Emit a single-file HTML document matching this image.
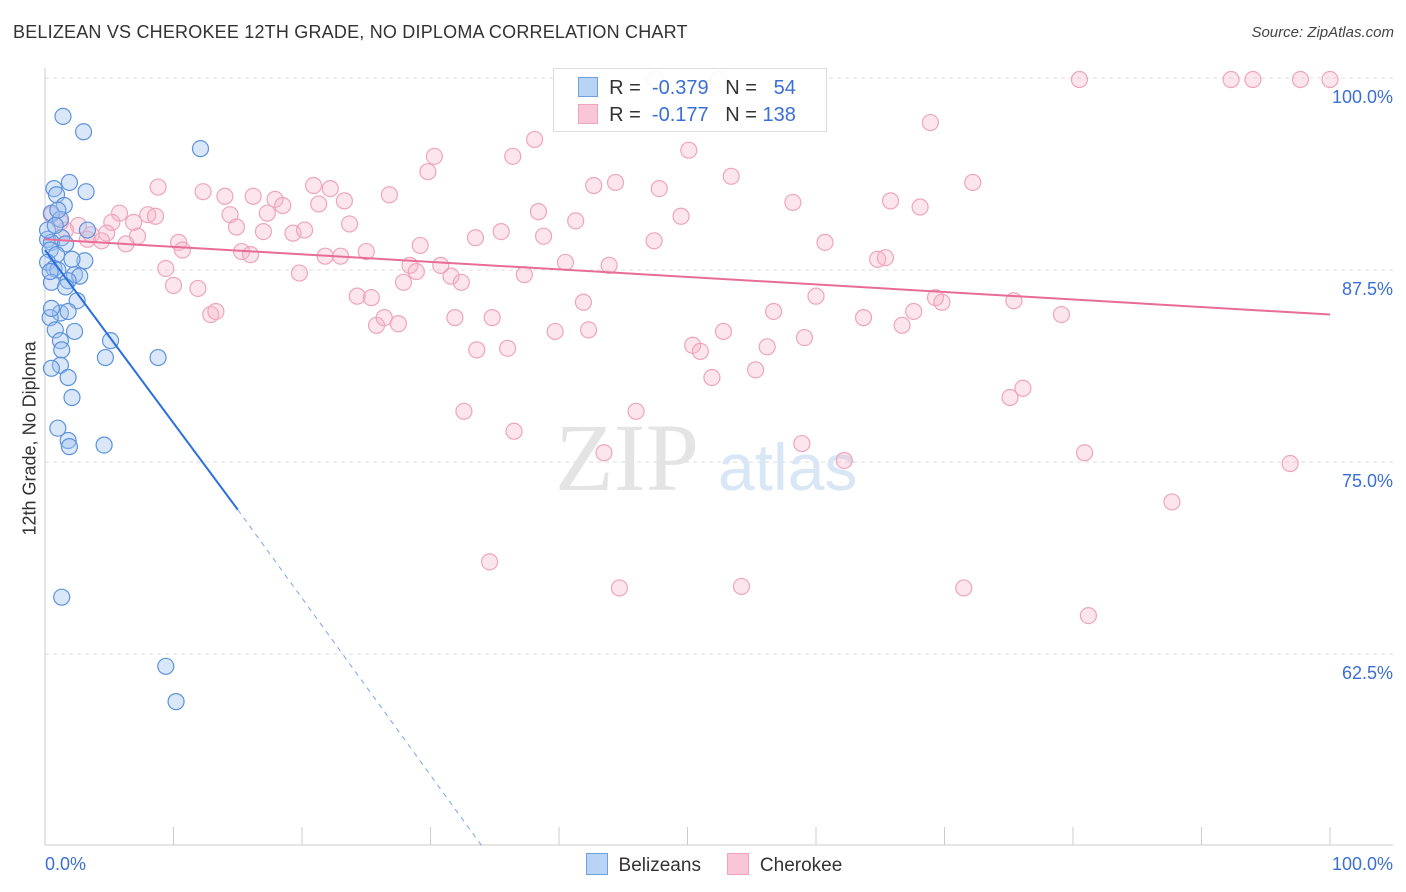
<!DOCTYPE html>
<html><head><meta charset="utf-8">
<style>
body{margin:0;background:#fff;font-family:"Liberation Sans",sans-serif;}
#wrap{position:relative;width:1406px;height:892px;overflow:hidden;}
.t{position:absolute;white-space:nowrap;}
</style></head>
<body>
<div id="wrap">
<div class="t" style="left:13px;top:22px;font-size:18px;color:#333;letter-spacing:0.2px">BELIZEAN VS CHEROKEE 12TH GRADE, NO DIPLOMA CORRELATION CHART</div>
<div class="t" style="right:12px;top:24px;font-size:15px;color:#444;font-style:italic">Source: ZipAtlas.com</div>
<div class="t" style="left:-50px;top:445px;font-size:18px;color:#333;transform:rotate(-90deg);width:160px;text-align:center">12th Grade, No Diploma</div>
<svg id="svg" width="1406" height="892" style="position:absolute;left:0;top:0"></svg>
</div>
<script>
const yTicks=[100,87.5,75,62.5];
const yTickLabels=["100.0%","87.5%","75.0%","62.5%"];
const xTickLabels=["0.0%","100.0%"];
const blueX=[1.4,3.0,12.1,0.7,1.9,3.2,0.9,1.5,0.5,1.2,3.3,0.2,1.3,0.5,1.6,0.4,0.9,3.1,0.2,0.7,1.0,2.3,2.7,1.8,0.5,2.5,1.2,1.8,0.4,2.3,0.8,1.2,5.1,1.3,4.7,8.8,1.2,0.5,1.8,2.1,1.0,1.8,1.9,4.6,1.3,9.4,10.2,0.2,0.8,0.4,1.0,1.6,0.5,2.1];
const blueY=[97.5,96.5,95.4,92.8,93.2,92.6,92.4,91.7,91.2,90.8,90.1,89.5,89.6,89.3,89.2,88.8,88.5,88.1,88.0,87.6,87.5,87.2,87.1,86.8,86.7,85.5,84.7,84.8,84.4,83.5,83.6,82.9,82.9,82.3,81.8,81.8,81.3,81.1,80.5,79.2,77.2,76.4,76.0,76.1,66.2,61.7,59.4,90.1,90.4,87.4,91.4,86.4,85.0,88.2];
const pinkX=[47.5,52.4,80.5,92.3,94.0,97.7,100,68.9,38.1,50.1,30.3,36.4,29.8,53.4,8.8,12.3,14.0,16.2,17.9,20.9,22.2,26.8,23.3,42.7,44.4,47.8,65.8,68.1,72.2,58.2,0.5,5.8,8.0,8.6,14.4,17.3,18.5,21.3,1.2,2.6,5.2,6.9,14.9,17.0,23.7,38.4,41.3,49.5,1.6,3.6,4.8,7.2,10.4,19.3,20.2,33.5,35.5,38.8,47.4,60.7,3.3,4.4,6.3,10.7,15.3,16.0,21.8,23.0,25.0,29.2,40.5,43.9,64.8,65.4,9.4,19.8,28.4,28.9,30.8,31.6,32.4,37.3,27.9,10.0,11.9,24.3,25.4,41.9,60.0,69.3,69.8,75.4,12.9,13.3,25.8,26.4,27.5,31.9,34.8,39.7,42.3,56.7,63.7,66.7,67.6,79.1,33.6,36.0,50.4,51.0,52.8,56.2,59.1,51.9,55.3,32.6,46.0,75.1,76.1,36.5,43.5,58.9,62.2,80.9,96.9,87.7,34.6,44.7,54.2,71.5,81.2];
const pinkY=[99.9,99.9,99.9,99.9,99.9,99.9,99.9,97.1,96.0,95.3,94.9,94.9,93.9,93.6,92.9,92.6,92.3,92.3,92.1,93.0,92.8,92.4,92.0,93.0,93.2,92.8,92.0,91.6,93.2,91.9,91.1,91.2,91.1,91.0,91.1,91.2,91.7,91.8,90.6,90.4,90.6,90.6,90.3,90.0,90.5,91.3,90.7,91.0,90.1,89.8,89.9,89.7,89.3,89.9,90.1,89.6,90.0,89.7,89.4,89.3,89.5,89.4,89.2,88.8,88.7,88.5,88.4,88.4,88.7,89.1,88.0,87.8,88.2,88.3,87.6,87.3,87.8,87.4,87.8,87.1,86.7,87.2,86.7,86.5,86.3,85.8,85.7,85.4,85.8,85.7,85.4,85.5,84.6,84.8,83.9,84.4,84.0,84.4,84.4,83.5,83.6,84.8,84.4,83.9,84.8,84.6,82.3,82.4,82.6,82.2,83.5,82.5,83.1,80.5,81.0,78.3,78.3,79.2,79.8,77.0,75.6,76.2,75.1,75.6,74.9,72.4,68.5,66.8,66.9,66.8,65.0];
const blueTrend=[[0,88.8],[15,71.9],[34,50]];
const pinkTrend=[[0,89.5],[100,84.6]];

const svg=document.getElementById('svg');const NS='http://www.w3.org/2000/svg';
function X(v){return 45+v*12.85;}
function Y(v){return 78+(100-v)*15.36;}
function mk(t,a,name){const e=document.createElementNS(NS,t);for(const k in a)e.setAttribute(k,a[k]);


svg.appendChild(e);return e;}
yTicks.forEach((v,i)=>{
 mk('line',{x1:45,x2:1393,y1:Y(v),y2:Y(v),stroke:'#ddd','stroke-dasharray':'4,4'},'gridline');
 const t=mk('text',{x:1393,y:Y(v)+25,'text-anchor':'end','font-size':18,fill:'#3b6fd6','font-family':'Liberation Sans'},'y-tick-label');t.textContent=yTickLabels[i];
});
mk('line',{x1:45,x2:45,y1:68,y2:845,stroke:'#ccc'},'y-axis');
mk('line',{x1:45,x2:1393,y1:845,y2:845,stroke:'#ccc'},'x-axis');
for(let i=1;i<=10;i++){mk('line',{x1:X(i*10),x2:X(i*10),y1:827,y2:845,stroke:'#ccc'},'x-tick');}
let t=mk('text',{x:45,y:870,'font-size':18,fill:'#3b6fd6','font-family':'Liberation Sans'},'x-tick-label');t.textContent=xTickLabels[0];
t=mk('text',{x:1393,y:870,'text-anchor':'end','font-size':18,fill:'#3b6fd6','font-family':'Liberation Sans'},'x-tick-label');t.textContent=xTickLabels[1];
t=mk('text',{x:555,y:490,'font-size':96,fill:'#e4e4e4','font-family':'Liberation Serif'},'watermark-zip');t.textContent='ZIP';
t=mk('text',{x:718,y:490,'font-size':66,fill:'#d8e6f6','font-family':'Liberation Sans'},'watermark-atlas');t.textContent='atlas';
pinkX.forEach((v,i)=>mk('circle',{cx:X(v),cy:Y(pinkY[i]),r:8,fill:'rgba(247,180,200,0.35)',stroke:'#eea5bd','stroke-width':1.2},'cherokee-point'));
blueX.forEach((v,i)=>mk('circle',{cx:X(v),cy:Y(blueY[i]),r:8,fill:'rgba(160,195,240,0.4)',stroke:'#5d93dd','stroke-width':1.2},'belizean-point'));
mk('line',{x1:X(pinkTrend[0][0]),y1:Y(pinkTrend[0][1]),x2:X(pinkTrend[1][0]),y2:Y(pinkTrend[1][1]),stroke:'#e86c98','stroke-width':2},'cherokee-trend-line');
mk('line',{x1:X(blueTrend[0][0]),y1:Y(blueTrend[0][1]),x2:X(blueTrend[1][0]),y2:Y(blueTrend[1][1]),stroke:'#2a6fdc','stroke-width':2},'belizean-trend-line');
mk('line',{x1:X(blueTrend[1][0]),y1:Y(blueTrend[1][1]),x2:X(blueTrend[2][0]),y2:Y(blueTrend[2][1]),stroke:'#7aa5e6','stroke-width':1,'stroke-dasharray':'5,5'},'belizean-trend-extension');
</script>
<div class="t" style="left:553px;top:68px;width:272px;height:62px;border:1px solid #ddd;background:rgba(255,255,255,0.9)">
 <div style="position:absolute;left:24px;top:8px;font-size:20px;color:#333">
  <span style="display:inline-block;width:18px;height:18px;background:#b9d3f5;border:1px solid #6fa0e0;vertical-align:-3px"></span>
  &nbsp;R = <span style="color:#3b6fd6">&nbsp;-0.379</span>&nbsp;&nbsp;&nbsp;N = &nbsp;&nbsp;<span style="color:#3b6fd6">54</span></div>
 <div style="position:absolute;left:24px;top:35px;font-size:20px;color:#333">
  <span style="display:inline-block;width:18px;height:18px;background:#f8c6d6;border:1px solid #eea5bd;vertical-align:-3px"></span>
  &nbsp;R = &nbsp;<span style="color:#3b6fd6">-0.177</span>&nbsp;&nbsp;&nbsp;N = <span style="color:#3b6fd6">138</span></div>
</div>
<div class="t" style="left:586px;top:853px;font-size:19px;color:#333">
 <span><span style="display:inline-block;width:20px;height:20px;background:#b9d3f5;border:1px solid #6fa0e0;vertical-align:-4px"></span>&nbsp; Belizeans</span>
 &nbsp;&nbsp;&nbsp;&nbsp;<span><span style="display:inline-block;width:20px;height:20px;background:#f8c6d6;border:1px solid #eea5bd;vertical-align:-4px"></span>&nbsp; Cherokee</span>
</div>
</body></html>
